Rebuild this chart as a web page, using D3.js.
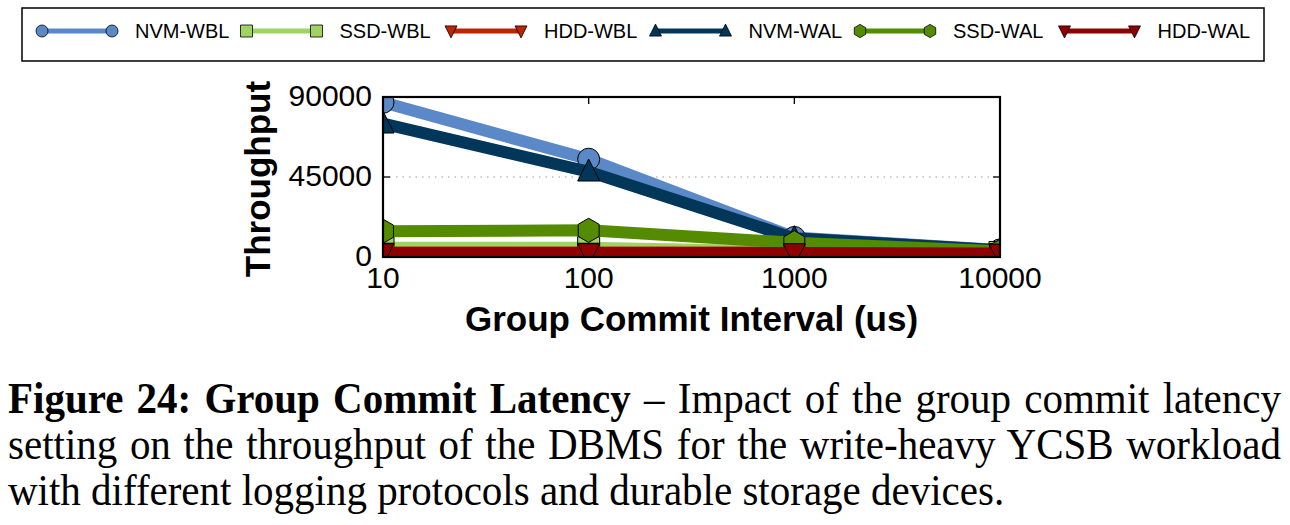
<!DOCTYPE html>
<meta charset="utf-8">
<style>
    body { margin: 0; background: #fff; }
    .tick-label { font: 30px "Liberation Sans", Arial, sans-serif; fill: #000; }
    .axis-title { font: bold 35px "Liberation Sans", Arial, sans-serif; fill: #000; }
    .legend-label { font: 20px "Liberation Sans", Arial, sans-serif; fill: #000; }
    .caption { font: 41px "Liberation Serif", "Times New Roman", serif; fill: #000; }
</style>
<svg width="1290" height="525"></svg>
<script src="https://d3js.org/d3.v7.min.js"></script>
<script>

    // data
    var intervals = [10, 100, 1000, 10000];
    var seriesNames = ["NVM-WBL", "SSD-WBL", "HDD-WBL", "NVM-WAL", "SSD-WAL", "HDD-WAL"];
    var nvmWbl = [87000, 55000, 11000, 4000];
    var ssdWbl = [5200, 5200, 3000, 2500];
    var hddWbl = [2500, 2500, 2500, 2200];
    var nvmWal = [75000, 48000, 10500, 3800];
    var ssdWal = [14500, 15000, 8000, 3200];
    var hddWal = [2200, 2200, 2200, 2000];
    var yTicks = [0, 45000, 90000];
    var captionBold = "Figure 24: Group Commit Latency";
    var captionLines = [
        " \u2013 Impact of the group commit latency",
        "setting on the throughput of the DBMS for the write-heavy YCSB workload",
        "with different logging protocols and durable storage devices."
    ];

    var seriesValues = [nvmWbl, ssdWbl, hddWbl, nvmWal, ssdWal, hddWal];
    var colors = ["#5b88c6", "#9fd464", "#c02300", "#02375a", "#548b00", "#900000"];
    var shapes = ["circle", "square", "down", "up", "hex", "down"];

    var svg = d3.select("svg");
    var pLeft = 383, pRight = 1000, pTop = 97, pBottom = 257;

    var x = d3.scaleLog().domain([10, 10000]).range([pLeft, pRight]);
    var y = d3.scaleLinear().domain([0, 90000]).range([pBottom, pTop]);

    function markerPath(shape, r) {
        if (shape === "circle") return d3.symbol(d3.symbolCircle, Math.PI * r * r)();
        if (shape === "square") return "M" + -r + "," + -r + "h" + 2 * r + "v" + 2 * r + "h" + -2 * r + "Z";
        if (shape === "up") return "M0," + (-r * 1.15) + "L" + r + "," + r * 0.85 + "L" + -r + "," + r * 0.85 + "Z";
        if (shape === "down") return "M0," + (r * 1.15) + "L" + r + "," + -r * 0.85 + "L" + -r + "," + -r * 0.85 + "Z";
        // pointy-top hexagon
        var pts = d3.range(6).map(function (i) {
            var a = Math.PI / 3 * i - Math.PI / 2;
            return [r * 1.1 * Math.cos(a), r * 1.1 * Math.sin(a)];
        });
        return "M" + pts.join("L") + "Z";
    }

    svg.append("clipPath").attr("id", "plot-clip")
        .append("rect").attr("x", pLeft).attr("y", pTop)
        .attr("width", pRight - pLeft).attr("height", pBottom - pTop);

    // grid line at 45000
    svg.append("line")
        .attr("x1", pLeft).attr("x2", pRight)
        .attr("y1", y(45000)).attr("y2", y(45000))
        .attr("stroke", "#999").attr("stroke-width", 1.2)
        .attr("stroke-dasharray", "1.5,5");

    // inward ticks
    var tickG = svg.append("g").attr("stroke", "#000").attr("stroke-width", 1.3);
    intervals.forEach(function (v) {
        tickG.append("line").attr("x1", x(v)).attr("x2", x(v)).attr("y1", pTop).attr("y2", pTop + 7);
        tickG.append("line").attr("x1", x(v)).attr("x2", x(v)).attr("y1", pBottom).attr("y2", pBottom - 7);
    });
    yTicks.forEach(function (v) {
        tickG.append("line").attr("x1", pLeft).attr("x2", pLeft + 7).attr("y1", y(v)).attr("y2", y(v));
        tickG.append("line").attr("x1", pRight).attr("x2", pRight - 7).attr("y1", y(v)).attr("y2", y(v));
    });

    var line = d3.line()
        .x(function (d, i) { return x(intervals[i]); })
        .y(function (d) { return y(d); });

    var plot = svg.append("g").attr("clip-path", "url(#plot-clip)");

    seriesValues.forEach(function (vals, s) {
        var g = plot.append("g");
        g.append("path")
            .attr("d", line(vals))
            .attr("fill", "none")
            .attr("stroke", colors[s])
            .attr("stroke-width", 12)
            .attr("stroke-linejoin", "miter");
        g.selectAll("path.mk")
            .data(vals)
            .enter().append("path")
            .attr("class", "mk")
            .attr("transform", function (d, i) { return "translate(" + x(intervals[i]) + "," + y(d) + ")"; })
            .attr("d", markerPath(shapes[s], 11))
            .attr("fill", colors[s])
            .attr("stroke", "#000")
            .attr("stroke-width", 1);
    });

    // frame
    svg.append("rect")
        .attr("x", pLeft).attr("y", pTop)
        .attr("width", pRight - pLeft).attr("height", pBottom - pTop)
        .attr("fill", "none").attr("stroke", "#000").attr("stroke-width", 2.2);

    // tick labels
    svg.selectAll("text.ylab")
        .data(yTicks)
        .enter().append("text")
        .attr("class", "tick-label ylab")
        .attr("x", pLeft - 11)
        .attr("y", function (d) { return y(d); })
        .attr("dy", "0.3em")
        .attr("text-anchor", "end")
        .text(function (d) { return d; });

    svg.selectAll("text.xlab")
        .data(intervals)
        .enter().append("text")
        .attr("class", "tick-label xlab")
        .attr("x", function (d) { return x(d); })
        .attr("y", 288)
        .attr("text-anchor", "middle")
        .text(function (d) { return d; });

    svg.append("text")
        .attr("class", "axis-title")
        .attr("text-anchor", "middle")
        .attr("transform", "translate(270," + ((pTop + pBottom) / 2 + 2) + ") rotate(-90)")
        .text("Throughput");

    svg.append("text")
        .attr("class", "axis-title")
        .attr("text-anchor", "middle")
        .attr("x", (pLeft + pRight) / 2)
        .attr("y", 331)
        .text("Group Commit Interval (us)");

    // legend
    var legend = svg.append("g");
    legend.append("rect")
        .attr("x", 22).attr("y", 8)
        .attr("width", 1242).attr("height", 53)
        .attr("fill", "#fff").attr("stroke", "#000").attr("stroke-width", 1.5);

    seriesNames.forEach(function (name, s) {
        var lx = 42 + s * 204.5, ly = 31;
        legend.append("line")
            .attr("x1", lx).attr("x2", lx + 70)
            .attr("y1", ly).attr("y2", ly)
            .attr("stroke", colors[s]).attr("stroke-width", 5);
        [lx, lx + 70].forEach(function (mx) {
            legend.append("path")
                .attr("transform", "translate(" + mx + "," + ly + ")")
                .attr("d", markerPath(shapes[s], 6))
                .attr("fill", colors[s])
                .attr("stroke", "#000").attr("stroke-width", 0.8);
        });
        legend.append("text")
            .attr("class", "legend-label")
            .attr("x", lx + 93)
            .attr("y", 38)
            .text(name);
    });

    // caption (slightly taller glyphs, lines 1-2 justified)
    var capLeft = 8, capRight = 1281;
    var baselines = [413, 459, 505];
    captionLines.forEach(function (txt, i) {
        var t = svg.append("text")
            .attr("class", "caption")
            .attr("transform", "translate(" + capLeft + "," + baselines[i] + ") scale(1,1.07)");
        if (i === 0) {
            t.append("tspan").attr("font-weight", "bold").text(captionBold);
        }
        t.append("tspan").text(txt);
        if (i < 2) {
            var full = (i === 0 ? captionBold : "") + txt;
            var spaces = full.split(" ").length - 1;
            var w = t.node().getComputedTextLength();
            t.attr("word-spacing", (capRight - capLeft - w) / spaces);
        }
    });

</script>
